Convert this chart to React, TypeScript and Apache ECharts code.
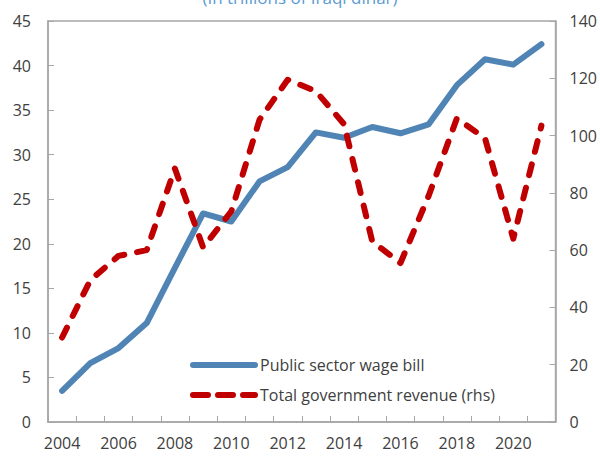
import React, { useEffect, useRef } from "react";
import * as echarts from "echarts";

const years = ["2004","2005","2006","2007","2008","2009","2010","2011","2012","2013","2014","2015","2016","2017","2018","2019","2020","2021"];
const wageBill = [3.5, 6.6, 8.3, 11.1, 17.3, 23.4, 22.5, 27.0, 28.6, 32.5, 31.9, 33.1, 32.4, 33.4, 37.8, 40.7, 40.1, 42.4];
const revenue = [29.5, 49.5, 58, 60, 88.5, 61, 73.5, 105.5, 119.5, 115.5, 104, 63, 55.5, 79, 106, 99, 64, 103.5];
const titleText = "(In trillions of Iraqi dinar)";
const wageName = "Public sector wage bill";
const revName = "Total government revenue (rhs)";

const FONT = "'Open Sans', 'Noto Sans', sans-serif";
const AX = "#a6a6a6";
const TXT = "#404040";

export default function App() {
  const ref = useRef<HTMLDivElement>(null);
  useEffect(() => {
    if (!ref.current) return;
    const chart = echarts.init(ref.current, null, { renderer: "svg" });
    chart.setOption({
      animation: false,
      backgroundColor: "#ffffff",
      textStyle: { fontFamily: FONT },
      title: {
        text: titleText,
        left: "center",
        top: -11,
        padding: 0,
        textStyle: { color: "#5b9bd5", fontSize: 17, fontWeight: "normal", fontFamily: FONT },
      },
      grid: { left: 48, right: 43, top: 21, bottom: 34, show: true, borderColor: AX, borderWidth: 1.5, backgroundColor: "transparent" },
      legend: {
        orient: "vertical",
        left: 190,
        top: 355,
        padding: 0,
        itemGap: 10,
        itemWidth: 62,
        itemHeight: 18,
        itemStyle: { opacity: 0 },
        lineStyle: { width: 6, cap: "round" },
        textStyle: { color: TXT, fontSize: 16, fontFamily: FONT, lineHeight: 20 },
        data: [
          { name: wageName },
          { name: revName, lineStyle: { width: 6, type: [15, 10], cap: "round" } },
        ],
      },
      xAxis: {
        type: "category",
        data: years,
        boundaryGap: true,
        axisLine: { lineStyle: { color: AX, width: 1.5 } },
        axisTick: { show: true, inside: true, length: 6, interval: 0, lineStyle: { color: AX, width: 1 } },
        axisLabel: { interval: 1, color: TXT, fontSize: 16, margin: 13, fontFamily: FONT },
        splitLine: { show: false },
      },
      yAxis: [
        {
          type: "value",
          min: 0,
          max: 45,
          interval: 5,
          position: "left",
          axisLine: { show: true, lineStyle: { color: AX, width: 1.5 } },
          axisTick: { show: true, inside: true, length: 6, lineStyle: { color: AX } },
          axisLabel: { color: TXT, fontSize: 16, margin: 17, fontFamily: FONT },
          splitLine: { show: false },
        },
        {
          type: "value",
          min: 0,
          max: 140,
          interval: 20,
          position: "right",
          axisLine: { show: true, lineStyle: { color: AX, width: 1.5 } },
          axisTick: { show: true, inside: true, length: 6, lineStyle: { color: AX } },
          axisLabel: { color: TXT, fontSize: 16, margin: 14, fontFamily: FONT },
          splitLine: { show: false },
        },
      ],
      series: [
        {
          name: wageName,
          type: "line",
          yAxisIndex: 0,
          data: wageBill,
          symbol: "none",
          lineStyle: { color: "#4f84b4", width: 6, cap: "round", join: "round" },
          itemStyle: { color: "#4f84b4" },
          z: 2,
        },
        {
          name: revName,
          type: "line",
          yAxisIndex: 1,
          data: revenue,
          symbol: "none",
          lineStyle: { color: "#c00000", width: 6, type: [11, 13], cap: "round", join: "round" },
          itemStyle: { color: "#c00000" },
          z: 3,
        },
      ],
    });
    return () => chart.dispose();
  }, []);
  return <div ref={ref} style={{ width: 600, height: 456, position: "absolute", left: 0, top: 0 }} />;
}
